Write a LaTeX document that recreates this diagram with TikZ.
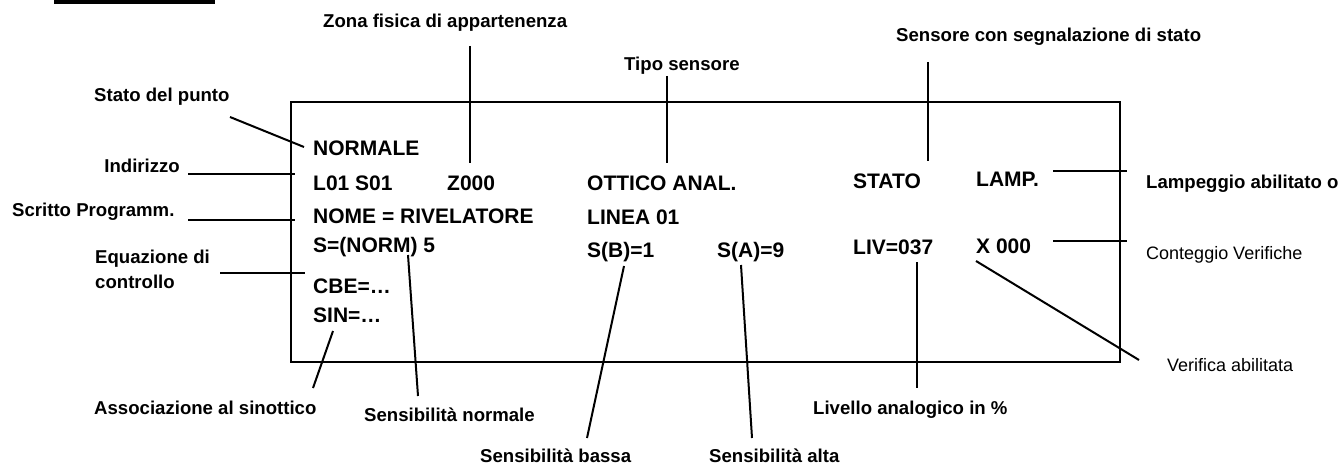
\documentclass[tikz,border=0pt]{standalone}
\usepackage{fontspec}
\setmainfont{Liberation Sans}
\begin{document}
\begin{tikzpicture}[x=1pt,y=-1pt,
  boxtxt/.style={anchor=base west, inner sep=0pt, font=\fontsize{21}{21}\selectfont\bfseries},
  lbl/.style={anchor=base west, inner sep=0pt, font=\fontsize{18.6}{18.6}\selectfont\bfseries},
  lblr/.style={anchor=base west, inner sep=0pt, font=\fontsize{18}{18}\selectfont},
  conn/.style={line width=2pt},
  screen/.style={draw, line width=2pt, anchor=north west, inner sep=0pt, minimum width=829pt, minimum height=260pt}]
\useasboundingbox (0,0) rectangle (1340,465);
% top rule
\fill (54,0.5) rectangle (215,4.5);
% display frame
\node[screen] (frame) at (290,101) {};
% display text
\node[boxtxt] (normale) at (313,156) {NORMALE};
\node[boxtxt] (addr) at (313,190) {L01 S01};
\node[boxtxt] (zone) at (447,190) {Z000};
\node[boxtxt] (tipo) at (587,190) {OTTICO ANAL.};
\node[boxtxt] (stato) at (853,189) {STATO};
\node[boxtxt] (lamp) at (976,186) {LAMP.};
\node[boxtxt] (nome) at (313,223) {NOME = RIVELATORE};
\node[boxtxt] (linea) at (587,224) {LINEA 01};
\node[boxtxt] (snorm) at (313,252) {S=(NORM) 5};
\node[boxtxt] (sb) at (587,257) {S(B)=1};
\node[boxtxt] (sa) at (717,257) {S(A)=9};
\node[boxtxt] (liv) at (853,254) {LIV=037};
\node[boxtxt] (xv) at (976,253) {X 000};
\node[boxtxt] (cbe) at (313,293) {CBE=…};
\node[boxtxt] (sin) at (313,322) {SIN=…};
% labels
\node[lbl] (lzona) at (323,28) {Zona fisica di appartenenza};
\node[lbl] (ltipo) at (624,70.5) {Tipo sensore};
\node[lbl] (lsens) at (896,41.5) {Sensore con segnalazione di stato};
\node[lbl] (lstato) at (94,101.5) {Stato del punto};
\node[lbl, anchor=base east] (lind) at (180,173) {Indirizzo};
\node[lbl] (lscr) at (12,216.5) {Scritto Programm.};
\node[lbl] (leqa) at (95,263) {Equazione di};
\node[lbl] (leqb) at (95,288) {controllo};
\node[lbl] (lass) at (94,414) {Associazione al sinottico};
\node[lbl] (lsn) at (364,421) {Sensibilità normale};
\node[lbl] (lsb) at (480,462) {Sensibilità bassa};
\node[lbl] (lsa) at (709,462) {Sensibilità alta};
\node[lbl] (lliv) at (813,414) {Livello analogico in \%};
\node[lblr] (lver) at (1167,371) {Verifica abilitata};
\node[lblr] (lcont) at (1146,259) {Conteggio Verifiche};
\node[lbl] (llamp) at (1146,189) {Lampeggio abilitato o};
% connector end points
\coordinate (a1) at (230,117); \coordinate (a2) at (304,147);
\coordinate (b1) at (188,174); \coordinate (b2) at (295,174);
\coordinate (c1) at (188,220); \coordinate (c2) at (295,220);
\coordinate (d1) at (220,273); \coordinate (d2) at (305,273);
\coordinate (e1) at (470,46);  \coordinate (e2) at (470,163);
\coordinate (f1) at (667,76);  \coordinate (f2) at (667,163);
\coordinate (g1) at (928,62);  \coordinate (g2) at (928,161);
\coordinate (h1) at (1053,171); \coordinate (h2) at (1127,171);
\coordinate (i1) at (1053,241); \coordinate (i2) at (1127,241);
\coordinate (j1) at (976,261); \coordinate (j2) at (1139,360);
\coordinate (k1) at (917,262); \coordinate (k2) at (917,388);
\coordinate (m1) at (741,265); \coordinate (m2) at (752,438);
\coordinate (n1) at (624,266); \coordinate (n2) at (587,438);
\coordinate (p1) at (408,255); \coordinate (p2) at (418,396);
\coordinate (q1) at (333,331); \coordinate (q2) at (313,388);
\foreach \s/\e in {a1/a2,b1/b2,c1/c2,d1/d2,e1/e2,f1/f2,g1/g2,h1/h2,i1/i2,j1/j2,k1/k2,m1/m2,n1/n2,p1/p2,q1/q2}
  \draw[conn] (\s) -- (\e);
\end{tikzpicture}
\end{document}
